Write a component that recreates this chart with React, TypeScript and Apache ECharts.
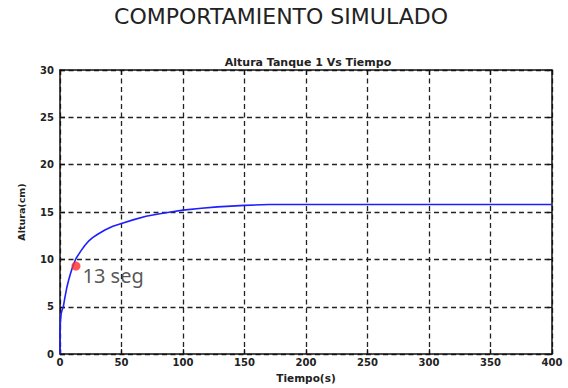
import React, { useEffect, useRef } from "react";
import * as echarts from "echarts";

// Simulated tank level response: time (s) and height (cm)
const timeS = [0, 0, 0.4, 1, 1.6, 2.7, 4, 5.5, 7, 8.3, 10.5, 13, 17, 20, 23, 26.5, 30, 36.5, 43, 50, 60, 70, 80, 90, 100, 115, 128, 150, 170, 200, 250, 300, 350, 400];
const heightCm = [0, 2.3, 3.6, 4.3, 4.6, 5.0, 6.0, 7.0, 7.8, 8.4, 9.3, 10.1, 10.9, 11.45, 11.9, 12.3, 12.6, 13.1, 13.5, 13.8, 14.2, 14.55, 14.8, 15.0, 15.2, 15.4, 15.55, 15.7, 15.8, 15.8, 15.8, 15.8, 15.8, 15.8];

// Highlighted point
const markTime = 13;
const markHeight = 9.3;

const xTicks = { min: 0, max: 400, step: 50 };
const yTicks = { min: 0, max: 30, step: 5 };

const mainTitle = "COMPORTAMIENTO SIMULADO";
const plotTitle = "Altura Tanque 1 Vs Tiempo";
const xName = "Tiempo(s)";
const yName = "Altura(cm)";

export default function App() {
  const ref = useRef<HTMLDivElement>(null);

  useEffect(() => {
    if (!ref.current) return;
    const chart = echarts.init(ref.current, null, { renderer: "svg" });

    const tickFont = {
      fontFamily: "DejaVu Sans",
      fontWeight: "bold" as const,
      fontSize: 10,
      color: "#222",
    };
    const frameLine = { lineStyle: { color: "#111", width: 1.5 } };
    const grid = {
      show: true,
      lineStyle: { color: "#222", width: 1.3, type: [5, 3.5] as number[] },
    };
    const tick = { inside: true, length: 5, lineStyle: { color: "#111", width: 1.3 } };

    chart.setOption({
      animation: false,
      backgroundColor: "#fff",
      title: [
        {
          text: mainTitle,
          left: 276,
          top: 0,
          textAlign: "center",
          textStyle: {
            fontFamily: "DejaVu Sans",
            fontWeight: "normal",
            fontSize: 22,
            color: "#222",
          },
        },
        {
          text: plotTitle,
          left: 303,
          top: 52,
          textAlign: "center",
          textStyle: { ...tickFont, fontSize: 11 },
        },
      ],
      grid: { left: 60, right: 16, top: 70, bottom: 32 },
      xAxis: [
        {
          type: "value",
          min: xTicks.min,
          max: xTicks.max,
          interval: xTicks.step,
          name: xName,
          nameLocation: "middle",
          nameGap: 17,
          nameTextStyle: { ...tickFont, fontSize: 10.5 },
          axisLine: { show: true, onZero: false, ...frameLine },
          axisTick: tick,
          axisLabel: { ...tickFont, margin: 3 },
          splitLine: grid,
        },
        {
          type: "value",
          position: "top",
          min: xTicks.min,
          max: xTicks.max,
          interval: xTicks.step,
          axisLine: { show: true, onZero: false, ...frameLine },
          axisTick: tick,
          axisLabel: { show: false },
          splitLine: { show: false },
        },
      ],
      yAxis: [
        {
          type: "value",
          min: yTicks.min,
          max: yTicks.max,
          interval: yTicks.step,
          name: yName,
          nameLocation: "middle",
          nameGap: 34,
          nameRotate: 90,
          nameTextStyle: { ...tickFont, fontSize: 9.5 },
          axisLine: { show: true, onZero: false, ...frameLine },
          axisTick: tick,
          axisLabel: { ...tickFont, margin: 6 },
          splitLine: grid,
        },
        {
          type: "value",
          position: "right",
          min: yTicks.min,
          max: yTicks.max,
          interval: yTicks.step,
          axisLine: { show: true, onZero: false, ...frameLine },
          axisTick: tick,
          axisLabel: { show: false },
          splitLine: { show: false },
        },
      ],
      series: [
        {
          type: "line",
          data: timeS.map((t, i) => [t, heightCm[i]]),
          showSymbol: false,
          symbol: "none",
          lineStyle: { color: "#1f1fff", width: 1.6 },
          z: 3,
        },
        {
          type: "scatter",
          data: [[markTime, markHeight]],
          symbolSize: 9,
          itemStyle: { color: "#ff2a2a" },
          z: 4,
          label: {
            show: true,
            position: "right",
            distance: 2,
            offset: [0, 9],
            formatter: `${markTime} seg`,
            fontFamily: "Noto Sans",
            fontSize: 20,
            color: "#2a2a2a",
          },
        },
      ],
    });

    return () => chart.dispose();
  }, []);

  return (
    <div
      ref={ref}
      style={{ position: "fixed", left: 0, top: 0, width: 568, height: 388 }}
    />
  );
}
